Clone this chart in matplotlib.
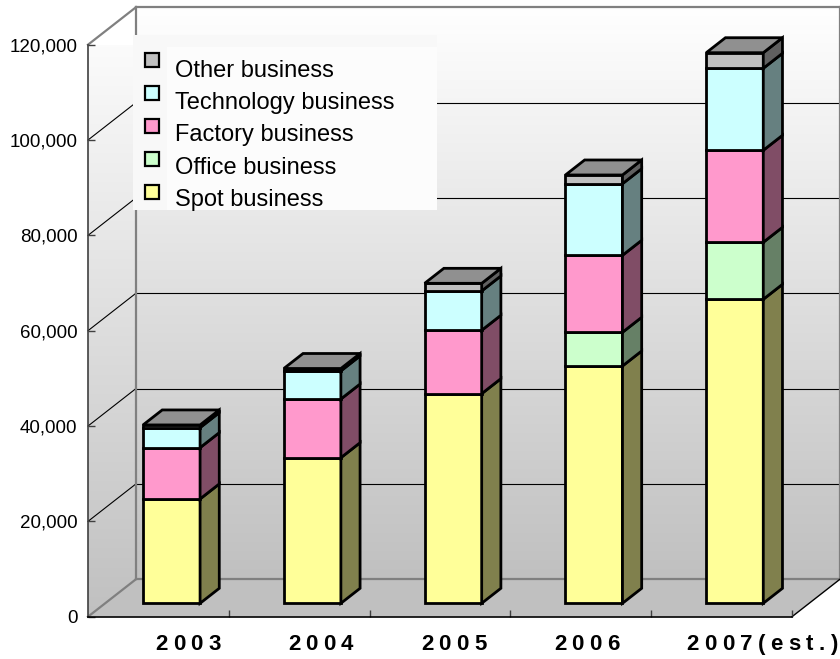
import numpy as np
import matplotlib
matplotlib.use("Agg")
import matplotlib.pyplot as plt
from matplotlib.patches import Polygon, Rectangle
from matplotlib.colors import LinearSegmentedColormap, to_rgb
from matplotlib.transforms import offset_copy

plt.rcParams["font.family"] = ["Liberation Sans", "DejaVu Sans"]

# ---- data -------------------------------------------------------------
years = ["2003", "2004", "2005", "2006", "2007(est.)"]
series_names = ["Spot business", "Office business", "Factory business",
                "Technology business", "Other business"]
spot = [21900, 30550, 43980, 49790, 63780]
office = [0, 0, 0, 7070, 11960]
factory = [10760, 12310, 13300, 16150, 19300]
technology = [4200, 5900, 8250, 15020, 17200]
other = [560, 500, 1600, 1830, 3270]
front_colors = ["#FFFF99", "#CCFFCC", "#FF99CC", "#CCFFFF", "#C0C0C0"]
y_ticks = [0, 20000, 40000, 60000, 80000, 100000, 120000]

series = [spot, office, factory, technology, other]

# ---- figure / front plane ---------------------------------------------
W, H = 840, 659
fig = plt.figure(figsize=(W / 100, H / 100), dpi=100)
ax = fig.add_axes([88 / W, 1 - 616.7 / H, 704 / W, 572 / H])
YMAX = 120000
ax.set_xlim(-0.5, 4.5)
ax.set_ylim(0, YMAX)

# oblique depth of the chart box, in data units
DX = 48 / 140.8
DY = 37.5 * YMAX / 572

GRID_GRAY = "#808080"
wall_cmap = LinearSegmentedColormap.from_list("wall", ["#c0c0c0", "#ffffff"])
grad = np.linspace(0, 1, 256).reshape(-1, 1)

# back wall gradient
bx0, bx1 = -0.5 + DX, 4.5 + DX
im = ax.imshow(grad, cmap=wall_cmap, origin="lower", aspect="auto",
               extent=[bx0, bx1, DY, YMAX + DY], zorder=0, interpolation="bilinear")
im.set_clip_path(Rectangle((bx0, DY), bx1 - bx0, YMAX, transform=ax.transData))

# left side wall gradient
side_pts = [(-0.5, 0), (-0.5 + DX, DY), (-0.5 + DX, YMAX + DY), (-0.5, YMAX)]
im2 = ax.imshow(grad, cmap=wall_cmap, origin="lower", aspect="auto",
                extent=[-0.5, -0.5 + DX, 0, YMAX + DY], zorder=0, interpolation="bilinear")
im2.set_clip_path(Polygon(side_pts, closed=True, transform=ax.transData))

# floor
floor = Polygon([(-0.5, 0), (4.5, 0), (4.5 + DX, DY), (-0.5 + DX, DY)],
                closed=True, fc="#c0c0c0", ec="none", zorder=0.5, clip_on=False)
ax.add_patch(floor)

ax.set_xlim(-0.5, 4.5)
ax.set_ylim(0, YMAX)

# gridlines on back wall and side wall
for v in y_ticks[1:-1]:
    ax.plot([bx0, bx1], [v + DY, v + DY], color="black", lw=0.8, zorder=1, clip_on=False)
    ax.plot([-0.5, -0.5 + DX], [v, v + DY], color="black", lw=0.8, zorder=1, clip_on=False)

# box edges
edge_kw = dict(color=GRID_GRAY, lw=1.6, zorder=1.2, clip_on=False, solid_capstyle="projecting")
ax.plot([bx0, bx1], [YMAX + DY, YMAX + DY], **edge_kw)
ax.plot([bx1, bx1], [DY, YMAX + DY], **edge_kw)
ax.plot([bx0, bx0], [DY, YMAX + DY], **edge_kw)
ax.plot([bx0, bx1], [DY, DY], **edge_kw)
ax.plot([-0.5, bx0], [YMAX, YMAX + DY], **edge_kw)
ax.plot([-0.5, bx0], [0, DY], **edge_kw)
ax.plot([4.5, bx1], [0, DY], color="black", lw=1.0, zorder=1.2, clip_on=False)

# ---- bars ---------------------------------------------------------------
BAR_LEFT = -0.109
BAR_W = 0.405
base_y = 0.357 * DY
bdx, bdy = 0.4 * DX, 0.4 * DY


def shade(c, f):
    r, g, b = to_rgb(c)
    return (r * f, g * f, b * f)


bar_kw = dict(ec="black", lw=2.0, joinstyle="miter", clip_on=False)
for i in range(len(years)):
    x0 = i + BAR_LEFT
    x1 = x0 + BAR_W
    bottom = base_y
    vals = [s[i] for s in series]
    last = max(k for k, v in enumerate(vals) if v > 0)
    for k, v in enumerate(vals):
        if v <= 0:
            continue
        top = bottom + v
        z = 3 + i * 0.1 + k * 0.01
        ax.add_patch(Polygon([(x0, bottom), (x1, bottom), (x1, top), (x0, top)],
                             closed=True, fc=front_colors[k], zorder=z, **bar_kw))
        ax.add_patch(Polygon([(x1, bottom), (x1 + bdx, bottom + bdy),
                              (x1 + bdx, top + bdy), (x1, top)],
                             closed=True, fc=shade(front_colors[k], 0.5), zorder=z, **bar_kw))
        if k == last:
            ax.add_patch(Polygon([(x0, top), (x1, top), (x1 + bdx, top + bdy),
                                  (x0 + bdx, top + bdy)],
                                 closed=True, fc=shade(front_colors[k], 0.75), zorder=z, **bar_kw))
        bottom = top

# ---- axes, ticks, labels ---------------------------------------------
for side in ("top", "right"):
    ax.spines[side].set_visible(False)
ax.spines["left"].set_color("#404040")
ax.spines["left"].set_linewidth(1.2)
ax.spines["bottom"].set_color("black")
ax.spines["bottom"].set_linewidth(1.2)
ax.set_facecolor("none")

ax.set_yticks(y_ticks)
ax.set_yticklabels([f"{v:,}" for v in y_ticks])
ax.tick_params(axis="y", direction="in", length=5, width=1.0, color="#404040",
               pad=7.5, labelsize=13.5)
ax.set_xticks([0.5, 1.5, 2.5, 3.5, 4.5])
ax.set_xticklabels([])
ax.tick_params(axis="x", direction="in", length=5, width=1.0, color="#404040")

# letter-spaced category labels, placed glyph by glyph
renderer = fig.canvas.get_renderer()
LETTER_GAP = 5.3  # pixels between glyphs
for i, yr in enumerate(years):
    cursor = 0.0
    for ch in yr:
        t = ax.text(-0.024 + 0.944 * i, -5900, ch, ha="left", va="center",
                    fontsize=16, fontweight="bold", clip_on=False,
                    transform=offset_copy(ax.transData, fig, x=cursor, y=0, units="dots"))
        cursor += t.get_window_extent(renderer).width + LETTER_GAP

# ---- legend -----------------------------------------------------------
def fpx(x, y):
    return (x / W, 1 - y / H)


fig.add_artist(Rectangle(fpx(133, 210), (437 - 133) / W, (210 - 35) / H,
                         transform=fig.transFigure, fc="#f8f8f8", ec="none", zorder=4))
fig.add_artist(Rectangle(fpx(167, 210), (437 - 167) / W, (210 - 47) / H,
                         transform=fig.transFigure, fc="#fcfcfc", ec="none", zorder=4.1))
order = list(range(len(series_names)))[::-1]
for row, k in enumerate(order):
    cy = 60 + 33 * row
    fig.add_artist(Rectangle(fpx(145, cy + 7), 14 / W, 14 / H, transform=fig.transFigure,
                             fc=front_colors[k], ec="black", lw=1.6, zorder=5))
    fig.text(175 / W, 1 - (77 + 32.2 * row) / H, series_names[k], fontsize=17,
             ha="left", va="baseline", zorder=5)

fig.savefig("out.png", dpi=100)
